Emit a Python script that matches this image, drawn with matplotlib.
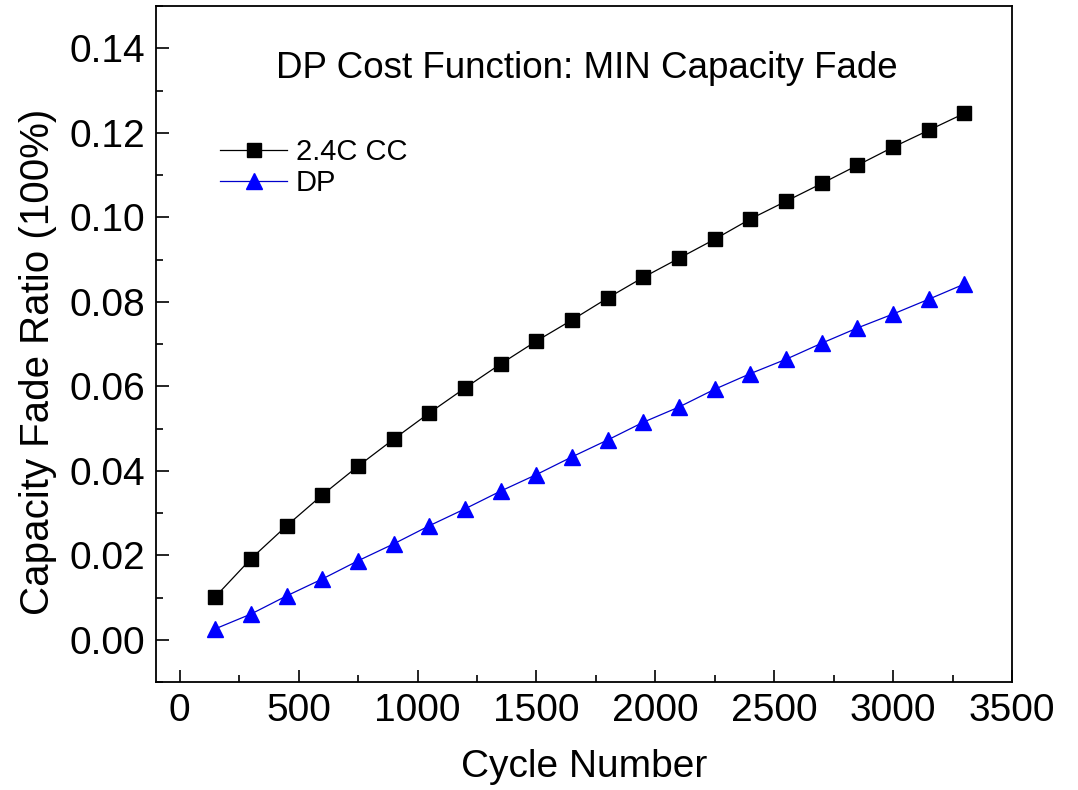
import matplotlib
matplotlib.use('Agg')
import matplotlib.pyplot as plt
from matplotlib.ticker import MultipleLocator, FormatStrFormatter

plt.rcParams['font.family'] = ['Liberation Sans', 'DejaVu Sans']

cycles = [150, 300, 450, 600, 750, 900, 1050, 1200, 1350, 1500, 1650,
          1800, 1950, 2100, 2250, 2400, 2550, 2700, 2850, 3000, 3150, 3300]
cc_fade = [0.0102, 0.0192, 0.0270, 0.0343, 0.0411, 0.0475, 0.0537, 0.0596,
           0.0653, 0.0707, 0.0757, 0.0809, 0.0858, 0.0903, 0.0948, 0.0996,
           0.1038, 0.1080, 0.1123, 0.1166, 0.1206, 0.1246]
dp_fade = [0.0026, 0.0061, 0.0104, 0.0144, 0.0187, 0.0227, 0.0270, 0.0310,
           0.0352, 0.0391, 0.0433, 0.0473, 0.0515, 0.0551, 0.0593, 0.0630,
           0.0664, 0.0702, 0.0738, 0.0771, 0.0806, 0.0842]

fig = plt.figure(figsize=(10.78, 7.9), dpi=100)
ax = fig.add_axes([0.1447, 0.1367, 0.7941, 0.8557])

ax.plot(cycles, cc_fade, color='black', lw=0.9, marker='s', ms=10,
        label='2.4C CC')
ax.plot(cycles, dp_fade, color='#0000cc', lw=0.9, marker='^', ms=12,
        markerfacecolor='blue', markeredgecolor='blue', label='DP')

ax.set_xlim(-100, 3500)
ax.set_ylim(-0.01, 0.15)
ax.xaxis.set_major_locator(MultipleLocator(500))
ax.xaxis.set_minor_locator(MultipleLocator(250))
ax.yaxis.set_major_locator(MultipleLocator(0.02))
ax.yaxis.set_minor_locator(MultipleLocator(0.01))
ax.yaxis.set_major_formatter(FormatStrFormatter('%.2f'))
ax.tick_params(which='both', direction='in', top=False, right=False,
               labelsize=28, width=1.2)
ax.tick_params(which='major', length=9, pad=8)
ax.tick_params(which='minor', length=5)
for s in ax.spines.values():
    s.set_linewidth(1.3)

ax.set_xlabel('Cycle Number', fontsize=28, labelpad=14)
ax.set_ylabel('Capacity Fade Ratio (100%)', fontsize=29)
ax.yaxis.set_label_coords(-0.116, 0.473)

ax.text(0.503, 0.908, 'DP Cost Function: MIN Capacity Fade', transform=ax.transAxes,
        ha='center', va='center', fontsize=26.5)

ax.legend(loc='upper left', bbox_to_anchor=(0.075, 0.805), frameon=False,
          fontsize=21, handlelength=2.3, handletextpad=0.3, labelspacing=0.1,
          borderpad=0, borderaxespad=0)

fig.savefig('out.png', dpi=100)
